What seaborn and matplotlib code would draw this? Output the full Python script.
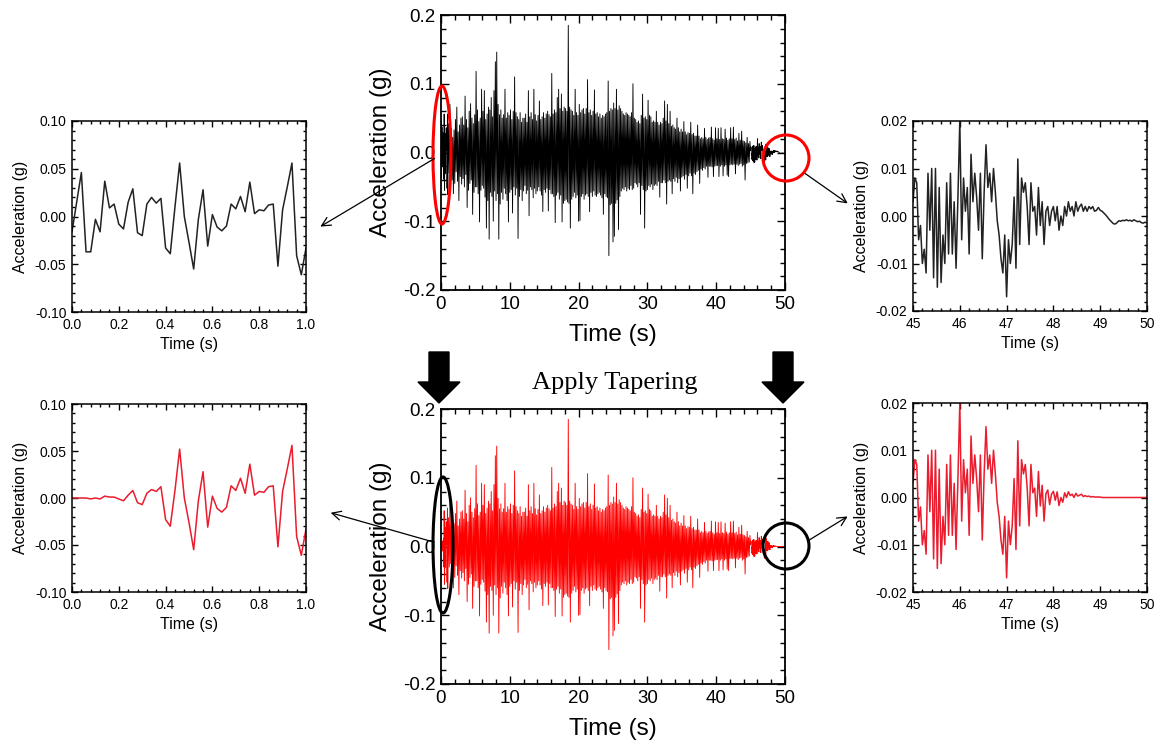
import numpy as np
import pandas as pd
import matplotlib
matplotlib.use("Agg")
import matplotlib.pyplot as plt
import seaborn as sns
from matplotlib.patches import Ellipse, FancyArrowPatch, Polygon
from matplotlib.ticker import MultipleLocator, FormatStrFormatter

# ---------------------------------------------------------------- data (g)
# first second of the record, every 0.02 s
acc_head = [-0.016, 0.015, 0.046, -0.037, -0.037, -0.003, -0.016, 0.037, 0.009, 0.013,
            -0.008, -0.013, 0.015, 0.029, -0.017, -0.020, 0.013, 0.020, 0.014, 0.019,
            -0.033, -0.039, 0.010, 0.056, 0.000, -0.027, -0.055, -0.003, 0.028, -0.031,
            0.002, -0.011, -0.015, -0.010, 0.013, 0.008, 0.021, 0.005, 0.036, 0.003,
            0.007, 0.006, 0.012, 0.013, -0.052, 0.007, 0.031, 0.056, -0.041, -0.061,
            -0.033]
# tapered start, 0.00-0.50 s
acc_head_tapered = [0.000, 0.000, 0.000, -0.000, -0.001, -0.000, -0.001, 0.002, 0.001, 0.001,
                    -0.001, -0.003, 0.003, 0.008, -0.005, -0.007, 0.005, 0.009, 0.007, 0.012,
                    -0.023, -0.030, 0.008, 0.052, 0.000, -0.026]

# strong-motion body, 1.1-44.9 s, peak values every 0.1 s (one row per second)
acc_body_rows = [
    [0.042, -0.030, 0.070, -0.025, 0.035, -0.040, 0.022, -0.060, 0.033, -0.045],
    [0.048, -0.028, 0.066, -0.042, 0.030, -0.070, 0.040, -0.035, 0.050, -0.046],
    [0.052, -0.038, 0.040, -0.050, 0.082, -0.032, 0.048, -0.080, 0.036, -0.055],
    [0.060, -0.045, 0.071, -0.040, 0.050, -0.090, 0.042, -0.058, 0.055, -0.050],
    [0.118, -0.050, 0.062, -0.060, 0.045, -0.101, 0.050, -0.055, 0.092, -0.048],
    [0.060, -0.052, 0.090, -0.065, 0.048, -0.110, 0.056, -0.070, 0.066, -0.126],
    [0.062, -0.058, 0.080, -0.064, 0.052, -0.100, 0.090, -0.056, 0.132, -0.070],
    [0.146, -0.060, 0.070, -0.126, 0.055, -0.075, 0.062, -0.058, 0.050, -0.068],
    [0.055, -0.052, 0.092, -0.060, 0.050, -0.070, 0.058, -0.101, 0.054, -0.058],
    [0.062, -0.054, 0.048, -0.088, 0.060, -0.050, 0.110, -0.062, 0.058, -0.052],
    [0.052, -0.125, 0.048, -0.064, 0.058, -0.054, 0.044, -0.070, 0.050, -0.056],
    [0.050, -0.048, 0.056, -0.060, 0.044, -0.055, 0.090, -0.092, 0.052, -0.050],
    [0.058, -0.054, 0.048, -0.066, 0.092, -0.052, 0.055, -0.060, 0.046, -0.056],
    [0.054, -0.050, 0.075, -0.056, 0.048, -0.062, 0.052, -0.086, 0.058, -0.054],
    [0.050, -0.058, 0.056, -0.052, 0.060, -0.085, 0.055, -0.054, 0.052, -0.060],
    [0.115, -0.060, 0.056, -0.064, 0.062, -0.102, 0.058, -0.062, 0.080, -0.058],
    [0.092, -0.068, 0.064, -0.062, 0.085, -0.101, 0.060, -0.074, 0.066, -0.070],
    [0.064, -0.068, 0.060, -0.072, 0.185, -0.074, 0.066, -0.110, 0.062, -0.068],
    [0.060, -0.064, 0.054, -0.058, 0.092, -0.066, 0.058, -0.062, 0.054, -0.100],
    [0.070, -0.099, 0.058, -0.064, 0.062, -0.060, 0.064, -0.068, 0.056, -0.062],
    [0.064, -0.060, 0.106, -0.064, 0.058, -0.086, 0.062, -0.058, 0.054, -0.064],
    [0.060, -0.056, 0.091, -0.062, 0.056, -0.064, 0.058, -0.060, 0.052, -0.058],
    [0.056, -0.062, 0.050, -0.066, 0.054, -0.090, 0.052, -0.060, 0.056, -0.064],
    [0.058, -0.066, 0.104, -0.150, 0.060, -0.076, 0.064, -0.074, 0.062, -0.130],
    [0.072, -0.122, 0.064, -0.074, 0.092, -0.069, 0.062, -0.112, 0.068, -0.064],
    [0.064, -0.056, 0.060, -0.052, 0.056, -0.054, 0.054, -0.050, 0.058, -0.056],
    [0.056, -0.052, 0.054, -0.054, 0.052, -0.048, 0.058, -0.054, 0.100, -0.052],
    [0.050, -0.044, 0.048, -0.046, 0.044, -0.050, 0.046, -0.044, 0.042, -0.090],
    [0.054, -0.048, 0.085, -0.054, 0.050, -0.110, 0.052, -0.056, 0.048, -0.054],
    [0.076, -0.048, 0.054, -0.050, 0.052, -0.046, 0.044, -0.054, 0.046, -0.048],
    [0.044, -0.046, 0.060, -0.048, 0.044, -0.042, 0.040, -0.065, 0.044, -0.044],
    [0.042, -0.044, 0.050, -0.040, 0.075, -0.044, 0.046, -0.075, 0.070, -0.042],
    [0.042, -0.040, 0.060, -0.042, 0.038, -0.060, 0.040, -0.038, 0.036, -0.042],
    [0.034, -0.036, 0.050, -0.044, 0.036, -0.038, 0.030, -0.056, 0.034, -0.036],
    [0.030, -0.034, 0.045, -0.039, 0.030, -0.032, 0.026, -0.052, 0.029, -0.034],
    [0.028, -0.030, 0.044, -0.034, 0.026, -0.060, 0.028, -0.030, 0.024, -0.032],
    [0.024, -0.028, 0.040, -0.026, 0.024, -0.045, 0.020, -0.024, 0.022, -0.026],
    [0.020, -0.022, 0.035, -0.024, 0.022, -0.020, 0.019, -0.036, 0.021, -0.020],
    [0.022, -0.020, 0.037, -0.021, 0.020, -0.035, 0.018, -0.020, 0.036, -0.019],
    [0.020, -0.019, 0.035, -0.035, 0.019, -0.020, 0.036, -0.018, 0.020, -0.034],
    [0.019, -0.020, 0.034, -0.018, 0.021, -0.033, 0.018, -0.035, 0.020, -0.018],
    [0.036, -0.017, 0.020, -0.018, 0.037, -0.017, 0.019, -0.031, 0.021, -0.017],
    [0.017, -0.019, 0.028, -0.017, 0.018, -0.016, 0.031, -0.020, 0.017, -0.018],
    [0.016, -0.040, 0.014, -0.016, 0.022, -0.015, 0.013, -0.014, 0.016],
]

# last five seconds, every 0.04 s
acc_tail = [0.003, 0.008, 0.007, -0.005, -0.002, -0.010, -0.007, -0.012, 0.009, -0.003,
            0.010, -0.013, 0.010, -0.015, 0.006, -0.014, -0.004, -0.010, 0.007, -0.008,
            0.009, -0.008, 0.003, -0.011, 0.004, 0.020, -0.005, 0.008, 0.001, 0.006,
            -0.008, 0.013, 0.003, 0.009, 0.004, -0.003, 0.009, -0.009, 0.005, 0.015,
            0.006, 0.009, 0.003, 0.010, 0.005, -0.001, -0.004, -0.009, -0.012, -0.004,
            -0.017, -0.005, -0.010, -0.006, 0.004, -0.011, 0.012, -0.006, 0.008, 0.005,
            0.007, 0.002, -0.006, 0.007, 0.001, 0.002, -0.004, 0.006, -0.002, 0.003,
            -0.006, 0.001, 0.002, -0.002, 0.001, 0.002, -0.001, 0.002, -0.003, 0.000,
            -0.002, 0.002, 0.000, 0.003, 0.001, 0.002, 0.000, 0.003, 0.001, 0.002,
            0.0025, 0.001, 0.002, 0.001, 0.002, 0.0015, 0.002, 0.001, 0.0012, 0.0018,
            0.0012, 0.0010, 0.0006, 0.0002, -0.0003, -0.0008, -0.0012, -0.0016, -0.0017, -0.0014,
            -0.0010, -0.0011, -0.0009, -0.0010, -0.0008, -0.0010, -0.0009, -0.0011, -0.0008, -0.0010,
            -0.0012, -0.0011, -0.0014, -0.0015, -0.0013, -0.0015]
# tapered end, 47.52-50.00 s
acc_tail_tapered = [0.007, 0.001, 0.002, -0.004, 0.0055, -0.0018, 0.0026, -0.0050, 0.0008, 0.0016,
                    -0.0015, 0.0007, 0.0013, -0.0006, 0.0012, -0.0017, 0.0000, -0.0010, 0.0010, 0.0000,
                    0.0012, 0.0004, 0.0007, 0.0000, 0.0009, 0.0003, 0.0005, 0.0007, 0.0002, 0.0004,
                    0.0002, 0.0003, 0.0001, 0.0002, 0.0001, 0.0001, 0.0001, 0.0001,
                    0.0, 0.0, 0.0, 0.0, 0.0, 0.0, 0.0, 0.0, 0.0, 0.0,
                    0.0, 0.0, 0.0, 0.0, 0.0, 0.0, 0.0, 0.0, 0.0, 0.0,
                    0.0, 0.0, 0.0, 0.0, 0.0]

# ---------------------------------------------------------------- time axes
acc_body = [v for row in acc_body_rows for v in row]
t_head = np.round(np.arange(len(acc_head)) * 0.02, 2)
t_body = np.round(1.1 + np.arange(len(acc_body)) * 0.1, 2)
t_tail = np.round(45.0 + np.arange(len(acc_tail)) * 0.04, 2)

n_head_tp = len(acc_head_tapered)
n_tail_keep = len(acc_tail) - len(acc_tail_tapered)
head_tp = acc_head_tapered + acc_head[n_head_tp:]
tail_tp = acc_tail[:n_tail_keep] + acc_tail_tapered

t_all = np.concatenate([t_head, t_body, t_tail])
raw = pd.DataFrame({"t": t_all, "acc": acc_head + acc_body + acc_tail})
tapered = pd.DataFrame({"t": t_all, "acc": head_tp + acc_body + tail_tp})

# ---------------------------------------------------------------- figure
sns.set_theme(style="ticks")
plt.rcParams["font.family"] = ["Liberation Sans", "DejaVu Sans"]
plt.rcParams["axes.edgecolor"] = "black"
plt.rcParams["text.color"] = "black"
plt.rcParams["axes.labelcolor"] = "black"
plt.rcParams["xtick.color"] = "black"
plt.rcParams["ytick.color"] = "black"

W, H = 1160, 748
fig = plt.figure(figsize=(W / 100, H / 100), dpi=100)
fig.patch.set_facecolor("white")


def box(l, t, r, b):
    return [l / W, 1 - b / H, (r - l) / W, (b - t) / H]


def fp(x, y):
    return (x / W, 1 - y / H)


def style(ax, xlim, ylim, xmaj, xmin, ymaj, ymin, xfmt, yfmt, tfs, lfs, big):
    ax.set_xlim(*xlim)
    ax.set_ylim(*ylim)
    ax.xaxis.set_major_locator(MultipleLocator(xmaj))
    ax.xaxis.set_minor_locator(MultipleLocator(xmin))
    ax.yaxis.set_major_locator(MultipleLocator(ymaj))
    ax.yaxis.set_minor_locator(MultipleLocator(ymin))
    ax.xaxis.set_major_formatter(FormatStrFormatter(xfmt))
    ax.yaxis.set_major_formatter(FormatStrFormatter(yfmt))
    ml, nl = (6, 3.5) if big else (4, 2.5)
    ax.tick_params(which="both", direction="in", top=True, right=True,
                   labelsize=tfs, width=1.0)
    ax.tick_params(which="major", length=ml, pad=4)
    ax.tick_params(which="minor", length=nl)
    for s in ax.spines.values():
        s.set_linewidth(1.3 if big else 1.1)
        s.set_color("black")
    ax.set_xlabel("Time (s)", fontsize=lfs, labelpad=8 if big else 4)
    ax.set_ylabel("Acceleration (g)", fontsize=lfs, labelpad=8 if big else 5)
    ax.set_facecolor("white")


panels = [
    # (box, frame, colour, xlim, ylim, big)
    (box(441, 15, 785, 290), raw, "black", (0, 50), (-0.2, 0.2), True),
    (box(441, 409, 785, 684), tapered, "#ff0000", (0, 50), (-0.2, 0.2), True),
    (box(72, 121, 306, 312), raw, "#222222", (0, 1), (-0.1, 0.1), False),
    (box(72, 404, 306, 592), tapered, "#ea1c2d", (0, 1), (-0.1, 0.1), False),
    (box(913, 121, 1147, 311), raw, "#222222", (45, 50), (-0.02, 0.02), False),
    (box(913, 403, 1147, 592), tapered, "#ea1c2d", (45, 50), (-0.02, 0.02), False),
]

for rect, df, col, xl, yl, big in panels:
    ax = fig.add_axes(rect)
    sub = df[(df.t >= xl[0]) & (df.t <= xl[1])]
    sns.lineplot(data=sub, x="t", y="acc", ax=ax, color=col,
                 lw=0.65 if big else 1.1, estimator=None, sort=False, legend=False)
    if big:
        style(ax, xl, yl, 10, 2, 0.1, 0.02, "%d", "%.1f", 13.5, 17.5, True)
    elif xl[0] == 0:
        style(ax, xl, yl, 0.2, 0.04, 0.05, 0.01, "%.1f", "%.2f", 10, 11.5, False)
    else:
        style(ax, xl, yl, 1, 0.2, 0.01, 0.002, "%d", "%.2f", 10, 11.5, False)

# ---------------------------------------------------------------- annotations
# highlighted windows
fig.add_artist(Ellipse(fp(442, 155), 18 / W, 138 / H, transform=fig.transFigure,
                       fill=False, ec="#ff0000", lw=2.2, zorder=10))
fig.add_artist(Ellipse(fp(786, 158), 46 / W, 46 / H, transform=fig.transFigure,
                       fill=False, ec="#ff0000", lw=2.2, zorder=10))
fig.add_artist(Ellipse(fp(443, 545), 20 / W, 136 / H, transform=fig.transFigure,
                       fill=False, ec="black", lw=2.2, zorder=10))
fig.add_artist(Ellipse(fp(786, 546), 46 / W, 46 / H, transform=fig.transFigure,
                       fill=False, ec="black", lw=2.2, zorder=10))

# pointers to the zoomed panels
for a, b in [((437, 157), (318, 228)), ((803, 172), (850, 205)),
             ((437, 543), (328, 512)), ((806, 542), (850, 515))]:
    fig.add_artist(FancyArrowPatch(fp(*a), fp(*b), transform=fig.transFigure,
                                   arrowstyle="->", mutation_scale=16, lw=0.9,
                                   color="black", zorder=11))


# block arrows for the tapering step
def block_arrow(cx, top, bottom, sw=20, hw=42, hl=21):
    pts = [(cx - sw / 2, top), (cx + sw / 2, top), (cx + sw / 2, bottom - hl),
           (cx + hw / 2, bottom - hl), (cx, bottom), (cx - hw / 2, bottom - hl),
           (cx - sw / 2, bottom - hl)]
    fig.add_artist(Polygon([fp(x, y) for x, y in pts], closed=True,
                           transform=fig.transFigure, fc="black", ec="black", zorder=12))


block_arrow(439, 352, 403)
block_arrow(783, 352, 403)

fig.text(*fp(615, 383), "Apply Tapering", ha="center", va="center",
         fontsize=19, family=["Liberation Serif", "DejaVu Serif"])

fig.savefig("out.png", dpi=100, facecolor="white")
